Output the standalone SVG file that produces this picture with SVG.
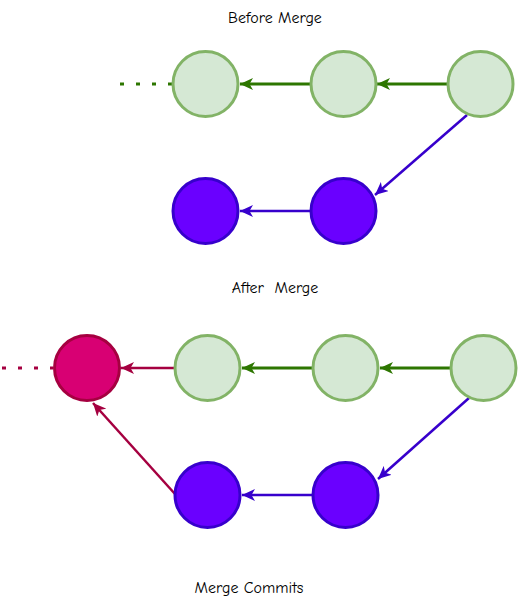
<svg xmlns="http://www.w3.org/2000/svg" width="518" height="603" viewBox="0 0 518 603">
<style>
.lbl{font-family:"Comic Sans MS","Comic Neue","Liberation Sans",sans-serif;font-size:16px;fill:#000;text-anchor:middle}
.g{fill:#d5e8d4;stroke:#82b366;stroke-width:3}
.p{fill:#6a00ff;stroke:#3700cc;stroke-width:3}
.r{fill:#d80073;stroke:#a50040;stroke-width:3}
.eg{stroke:#2d7600;stroke-width:3;fill:none}
.ep{stroke:#3700cc;stroke-width:2.5;fill:none}
.er{stroke:#a50040;stroke-width:2.5;fill:none}
.dot{stroke-dasharray:4 12}
</style>
<defs>
<marker id="ag" markerUnits="userSpaceOnUse" markerWidth="14" markerHeight="12" refX="13" refY="6" orient="auto"><path d="M0,0 L13,6 L0,12 L3.5,6 Z" fill="#2d7600"/></marker>
<marker id="ap" markerUnits="userSpaceOnUse" markerWidth="14" markerHeight="12" refX="13" refY="6" orient="auto"><path d="M0,0 L13,6 L0,12 L3.5,6 Z" fill="#3700cc"/></marker>
<marker id="ar" markerUnits="userSpaceOnUse" markerWidth="14" markerHeight="12" refX="13" refY="6" orient="auto"><path d="M0,0 L13,6 L0,12 L3.5,6 Z" fill="#a50040"/></marker>
</defs>
<text class="lbl" x="275" y="23">Before Merge</text>
<text class="lbl" x="275" y="293" xml:space="preserve">After  Merge</text>
<text class="lbl" x="249" y="593">Merge Commits</text>
<g id="connectors">
<line class="eg dot" x1="120" y1="84" x2="172" y2="84"/>
<line class="eg" x1="310" y1="84" x2="240" y2="84" marker-end="url(#ag)"/>
<line class="eg" x1="447" y1="84" x2="377" y2="84" marker-end="url(#ag)"/>
<line class="ep" x1="467" y1="115" x2="375" y2="195" marker-end="url(#ap)"/>
<line class="ep" x1="310" y1="211" x2="240" y2="211" marker-end="url(#ap)"/>
<line class="er dot" x1="2" y1="368" x2="53" y2="368" style="stroke-width:3"/>
<line class="er" x1="174" y1="368" x2="121" y2="368" marker-end="url(#ar)"/>
<line class="eg" x1="312" y1="368" x2="242" y2="368" marker-end="url(#ag)"/>
<line class="eg" x1="450" y1="368" x2="380" y2="368" marker-end="url(#ag)"/>
<line class="ep" x1="469" y1="398" x2="378" y2="479" marker-end="url(#ap)"/>
<line class="ep" x1="312" y1="495" x2="242" y2="495" marker-end="url(#ap)"/>
<line class="er" x1="175" y1="494" x2="93" y2="403" marker-end="url(#ar)"/>
</g>
<g id="b1"><circle class="g" cx="205.5" cy="84" r="32.5"/></g>
<g id="b2"><circle class="g" cx="343.5" cy="84" r="32.5"/></g>
<g id="b3"><circle class="g" cx="480.5" cy="84" r="32.5"/></g>
<g id="b4"><circle class="p" cx="205.5" cy="211" r="32.5"/></g>
<g id="b5"><circle class="p" cx="343.5" cy="211" r="32.5"/></g>
<g id="a0"><circle class="r" cx="87" cy="368" r="32.5"/></g>
<g id="a1"><circle class="g" cx="207.5" cy="368" r="32.5"/></g>
<g id="a2"><circle class="g" cx="345.5" cy="368" r="32.5"/></g>
<g id="a3"><circle class="g" cx="483.5" cy="368" r="32.5"/></g>
<g id="a4"><circle class="p" cx="207.5" cy="495" r="32.5"/></g>
<g id="a5"><circle class="p" cx="345.5" cy="495" r="32.5"/></g>
</svg>
